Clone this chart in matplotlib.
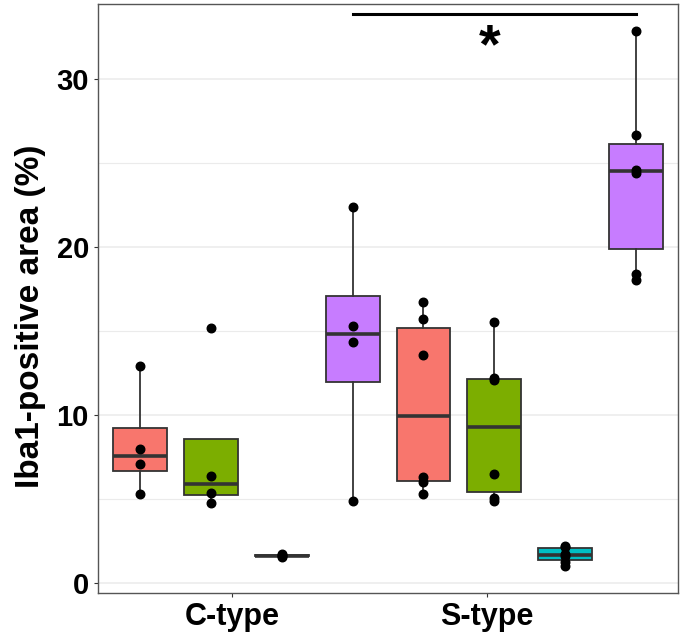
import matplotlib
matplotlib.use("Agg")
import matplotlib.pyplot as plt

plt.rcParams['font.family'] = ['Liberation Sans', 'DejaVu Sans']

# values per box, in plotting order (left to right)
c_salmon = [12.9, 8.0, 7.1, 5.3]
c_green = [15.2, 6.39, 5.36, 4.78]
c_cyan = [1.55, 1.6, 1.65, 1.7]
c_purple = [22.36, 15.28, 14.35, 4.9]
s_salmon = [16.73, 15.71, 13.55, 6.33, 6.01, 5.28]
s_green = [15.54, 12.2, 12.05, 6.47, 5.05, 4.85]
s_cyan = [2.18, 2.15, 1.75, 1.6, 1.25, 1.0]
s_purple = [32.88, 26.65, 24.6, 24.4, 18.4, 18.05]

groups = [c_salmon, c_green, c_cyan, c_purple, s_salmon, s_green, s_cyan, s_purple]
colors = ['#F8766D', '#7CAE00', '#00BFC4', '#C77CFF',
          '#F8766D', '#7CAE00', '#00BFC4', '#C77CFF']
tick_labels = ['C-type', 'S-type']
tick_pos = [2.3, 5.9]

positions = list(range(1, len(groups) + 1))

fig = plt.figure(figsize=(6.83, 6.42), dpi=100)
ax = fig.add_axes([0.1435, 0.0763, 0.8492, 0.9175])

# grid lines (major + minor)
for yv in [0, 5, 10, 15, 20, 25, 30]:
    ax.axhline(yv, color='#EBEBEB', lw=1.1 if yv % 10 == 0 else 0.8, zorder=0)

bp = ax.boxplot(groups, positions=positions, widths=0.76, patch_artist=True,
                showfliers=False, whis=1.5,
                boxprops=dict(edgecolor='#333333', linewidth=1.3),
                medianprops=dict(color='#333333', linewidth=2.6),
                whiskerprops=dict(color='#333333', linewidth=1.3),
                capprops=dict(linewidth=0))
for patch, col in zip(bp['boxes'], colors):
    patch.set_facecolor(col)

# raw points on top
for p, vals in zip(positions, groups):
    ax.scatter([p] * len(vals), vals, s=38, color='black', zorder=5)

# significance bracket
ax.plot([4, 8], [33.87, 33.87], color='black', lw=2.2, clip_on=False)
ax.text(5.94, 31.8, '*', ha='center', va='center', fontsize=40, fontweight='bold')

ax.set_xlim(0.41, 8.59)
ax.set_ylim(-0.6, 34.46)
ax.set_yticks([0, 10, 20, 30])
ax.set_xticks(tick_pos)
ax.set_xticklabels(tick_labels)
ax.tick_params(axis='y', labelsize=21, length=3, color='#333333', width=0.8)
ax.tick_params(axis='x', labelsize=22, length=3, color='#333333', width=0.8)
for lab in ax.get_xticklabels() + ax.get_yticklabels():
    lab.set_fontweight('bold')
    lab.set_color('black')

ax.set_ylabel('Iba1-positive area (%)', fontsize=24, fontweight='bold')
ax.yaxis.set_label_coords(-0.09, 0.47)

for sp in ax.spines.values():
    sp.set_color('#555555')
    sp.set_linewidth(1.0)

fig.savefig('out.png', dpi=100)
